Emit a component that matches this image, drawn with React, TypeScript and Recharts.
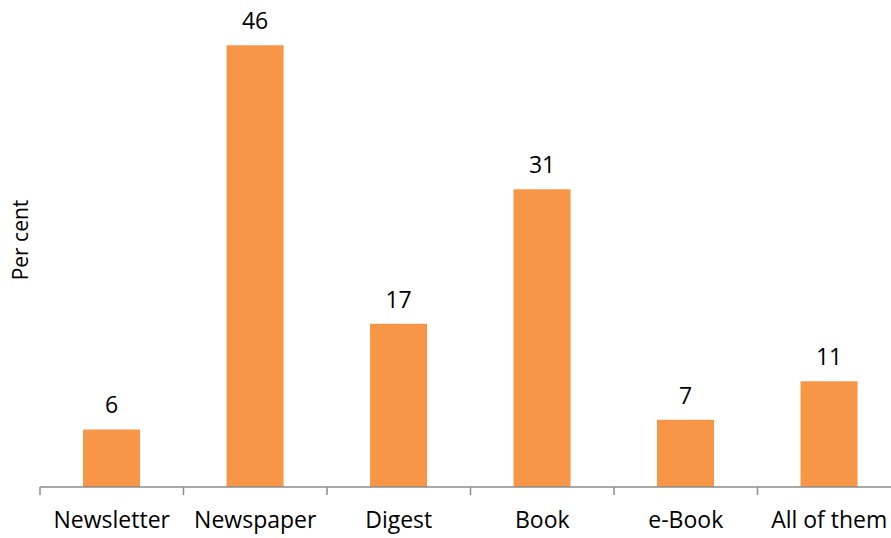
import { Bar, BarChart, LabelList, XAxis, YAxis } from "recharts";

const categories = ["Newsletter", "Newspaper", "Digest", "Book", "e-Book", "All of them"];
const perCent = [6, 46, 17, 31, 7, 11];

const data = categories.map((name, i) => ({ name, value: perCent[i] }));

const CHART_W = 908;
const CHART_H = 538;
const MARGIN = { top: 26, right: 7, left: 8, bottom: 0 };
const Y_W = 32;
const X_H = 51;
const FONT = "'Open Sans', sans-serif";
const half = (CHART_W - MARGIN.left - MARGIN.right - Y_W) / categories.length / 2;

function CategoryTick(props: any) {
  const { x, y, payload } = props;
  return (
    <g>
      <line x1={x - half} y1={y} x2={x - half} y2={y + 8} stroke="#8c8c8c" strokeWidth={1.5} />
      <text x={x} y={y + 41} textAnchor="middle" fill="#000" fontSize={23} fontFamily={FONT}>
        {payload.value}
      </text>
    </g>
  );
}

export default function App() {
  return (
    <div style={{ width: 891, height: CHART_H, overflow: "hidden", background: "#fff" }}>
      <style>{`html, body { margin: 0; overflow: hidden; }`}</style>
      <BarChart width={CHART_W} height={CHART_H} data={data} margin={MARGIN} barCategoryGap="30%">
        <XAxis
          dataKey="name"
          height={X_H}
          tickSize={0}
          tickMargin={0}
          tickLine={false}
          axisLine={{ stroke: "#8c8c8c", strokeWidth: 1.5 }}
          tick={<CategoryTick />}
          interval={0}
        />
        <YAxis
          width={Y_W}
          domain={[0, 48]}
          axisLine={false}
          tickLine={false}
          tick={false}
          label={{
            content: () => (
              <text
                x={28}
                y={240}
                transform="rotate(-90 28 240)"
                textAnchor="middle"
                fill="#000"
                fontSize={21}
                fontFamily={FONT}
              >
                Per cent
              </text>
            ),
          }}
        />
        <Bar dataKey="value" fill="#F79646" isAnimationActive={false}>
          <LabelList
            dataKey="value"
            position="top"
            offset={16}
            fill="#000"
            fontSize={23}
            fontFamily={FONT}
          />
        </Bar>
      </BarChart>
    </div>
  );
}
